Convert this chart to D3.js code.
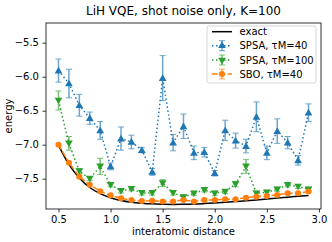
<!DOCTYPE html>
<html><head><meta charset="utf-8">
<script src="https://cdn.jsdelivr.net/npm/d3@7"></script>
<style>body{margin:0;background:#fff}text{font-family:"DejaVu Sans",sans-serif}</style>
</head><body><svg id="c" width="332" height="242"></svg>
<script>
const distances = [0.5,0.6,0.7,0.8,0.9,1.0,1.1,1.2,1.3,1.4,1.5,1.6,1.7,1.8,1.9,2.0,2.1,2.2,2.3,2.4,2.5,2.6,2.7,2.8,2.9];
const exact = [-7.01,-7.29,-7.49,-7.63,-7.72,-7.78,-7.82,-7.845,-7.86,-7.87,-7.875,-7.878,-7.877,-7.873,-7.866,-7.858,-7.848,-7.837,-7.825,-7.812,-7.799,-7.786,-7.772,-7.759,-7.746];
const spsa40 = [-5.91,-6.10,-6.42,-6.61,-6.79,-7.32,-6.91,-6.96,-7.08,-7.40,-6.02,-6.97,-6.73,-7.12,-7.11,-7.42,-6.79,-6.94,-7.02,-6.59,-7.12,-6.80,-6.97,-7.23,-6.53];
const spsa40Err = [0.17,0.21,0.16,0.09,0.13,0.05,0.17,0.10,0.04,0.05,0.33,0.12,0.18,0.10,0.07,0.04,0.15,0.11,0.10,0.22,0.10,0.18,0.09,0.07,0.13];
const spsa100 = [-6.35,-6.98,-7.39,-7.50,-7.32,-7.59,-7.68,-7.65,-7.71,-7.71,-7.565,-7.71,-7.77,-7.715,-7.665,-7.715,-7.69,-7.58,-7.32,-7.715,-7.70,-7.655,-7.59,-7.615,-7.655];
const spsa100Err = [0.14,0.10,0.04,0.03,0.12,0.03,0.03,0.03,0.03,0.03,0.05,0.03,0.03,0.03,0.03,0.03,0.03,0.04,0.10,0.03,0.03,0.03,0.03,0.03,0.03];
const sbo40 = [-7.00,-7.265,-7.47,-7.59,-7.685,-7.745,-7.788,-7.815,-7.83,-7.825,-7.835,-7.835,-7.813,-7.835,-7.813,-7.813,-7.803,-7.803,-7.779,-7.764,-7.754,-7.739,-7.714,-7.714,-7.69];
const sbo40Err = [0.015,0.015,0.015,0.015,0.015,0.015,0.015,0.015,0.015,0.015,0.015,0.015,0.015,0.015,0.015,0.015,0.015,0.015,0.015,0.015,0.015,0.015,0.015,0.015,0.015];
const yTicks = [-5.5,-6.0,-6.5,-7.0,-7.5];
const xTicks = [0.5,1.0,1.5,2.0,2.5,3.0];
const titleText = "LiH VQE, shot noise only, K=100";
const legendLabels = ["exact","SPSA, \u03c4M=40","SPSA, \u03c4M=100","SBO, \u03c4M=40"];

const svg = d3.select("#c");
const L=46,R=321,T=23,B=209;
const x = d3.scaleLinear().domain([0.38,3.02]).range([L,R]);
const y = d3.scaleLinear().domain([-7.946,-5.21]).range([B,T]);
const fmt = d => d3.format(".1f")(d).replace("-","\u2212");

// axes
const xa = svg.append("g").attr("transform",`translate(0,${B})`).call(d3.axisBottom(x).tickValues(xTicks).tickFormat(fmt).tickSizeOuter(0).tickSize(3.5).tickPadding(3.5));
const ya = svg.append("g").attr("transform",`translate(${L},0)`).call(d3.axisLeft(y).tickValues(yTicks).tickFormat(fmt).tickSizeOuter(0).tickSize(3.5).tickPadding(3.5));
[xa,ya].forEach(a=>{a.select(".domain").remove();a.selectAll("text").attr("font-size",10).attr("fill","#000").style("font-family","DejaVu Sans");a.selectAll("line").attr("stroke","#000").attr("stroke-width",0.8);});

const plot = svg.append("g");
const clip = svg.append("clipPath").attr("id","cp").append("rect").attr("x",L).attr("y",T).attr("width",R-L).attr("height",B-T);
plot.attr("clip-path","url(#cp)");

// exact
plot.append("path").datum(distances.map((d,i)=>[d,exact[i]]))
  .attr("d",d3.line().x(d=>x(d[0])).y(d=>y(d[1])).curve(d3.curveMonotoneX))
  .attr("fill","none").attr("stroke","#000").attr("stroke-width",1.5);

const tri = d3.symbol().type(d3.symbolTriangle).size(26);
function series(vals, errs, color, dash, marker, rot){
  const g = plot.append("g");
  g.append("path").datum(distances.map((d,i)=>[d,vals[i]]))
    .attr("d",d3.line().x(d=>x(d[0])).y(d=>y(d[1])))
    .attr("fill","none").attr("stroke",color).attr("stroke-width",1.5).attr("stroke-dasharray",dash);
  const eb = g.append("g").attr("stroke",color).attr("stroke-width",1.5).attr("opacity",0.65);
  distances.forEach((d,i)=>{
    const cx=x(d), y0=y(vals[i]-errs[i]), y1=y(vals[i]+errs[i]);
    eb.append("line").attr("x1",cx).attr("x2",cx).attr("y1",y0).attr("y2",y1);
    eb.append("line").attr("x1",cx-3).attr("x2",cx+3).attr("y1",y0).attr("y2",y0).attr("stroke-width",1);
    eb.append("line").attr("x1",cx-3).attr("x2",cx+3).attr("y1",y1).attr("y2",y1).attr("stroke-width",1);
  });
  distances.forEach((d,i)=>{
    if(marker==="o") g.append("circle").attr("cx",x(d)).attr("cy",y(vals[i])).attr("r",3).attr("fill",color);
    else g.append("path").attr("d",tri).attr("fill",color).attr("transform",`translate(${x(d)},${y(vals[i])+(rot?-0.6:0.6)}) rotate(${rot?180:0})`);
  });
}
series(spsa40, spsa40Err, "#1f77b4", "1.5,2.5", "^", false);
series(spsa100, spsa100Err, "#2ca02c", "1.5,2.5", "v", true);
series(sbo40, sbo40Err, "#ff7f0e", "5.5,2.4", "o", false);

// frame
svg.append("rect").attr("x",L).attr("y",T).attr("width",R-L).attr("height",B-T).attr("fill","none").attr("stroke","#000").attr("stroke-width",0.8);

// title and labels
svg.append("text").attr("x",(L+R)/2).attr("y",15).attr("text-anchor","middle").attr("font-size",12).text(titleText);
svg.append("text").attr("x",(L+R)/2).attr("y",235).attr("text-anchor","middle").attr("font-size",10).text("interatomic distance");
svg.append("text").attr("transform",`translate(12,${(T+B)/2}) rotate(-90)`).attr("text-anchor","middle").attr("font-size",10).text("energy");

// legend
const lg = svg.append("g");
lg.append("rect").attr("x",207).attr("y",26).attr("width",109).attr("height",57).attr("rx",2).attr("fill","#fff").attr("fill-opacity",0.8).attr("stroke","#ccc").attr("stroke-width",0.8);
const ly=[31.7,45.7,60,74];
const lcol=["#000","#1f77b4","#2ca02c","#ff7f0e"];
const ldash=[null,"1.5,2.5","1.5,2.5","5.5,2.4"];
legendLabels.forEach((t,i)=>{
  lg.append("line").attr("x1",212).attr("x2",232).attr("y1",ly[i]).attr("y2",ly[i]).attr("stroke",lcol[i]).attr("stroke-width",1.5).attr("stroke-dasharray",ldash[i]);
  if(i>0){
    lg.append("line").attr("x1",222).attr("x2",222).attr("y1",ly[i]-5).attr("y2",ly[i]+5).attr("stroke",lcol[i]).attr("stroke-width",1.5).attr("opacity",0.65);
    lg.append("line").attr("x1",219).attr("x2",225).attr("y1",ly[i]-5).attr("y2",ly[i]-5).attr("stroke",lcol[i]).attr("opacity",0.65);
    lg.append("line").attr("x1",219).attr("x2",225).attr("y1",ly[i]+5).attr("y2",ly[i]+5).attr("stroke",lcol[i]).attr("opacity",0.65);
    if(i===3) lg.append("circle").attr("cx",222).attr("cy",ly[i]).attr("r",3).attr("fill",lcol[i]);
    else lg.append("path").attr("d",tri).attr("fill",lcol[i]).attr("transform",`translate(222,${ly[i]}) rotate(${i===2?180:0})`);
  }
  lg.append("text").attr("x",239.5).attr("y",ly[i]+3.6).attr("font-size",10).text(t);
});
</script></body></html>
